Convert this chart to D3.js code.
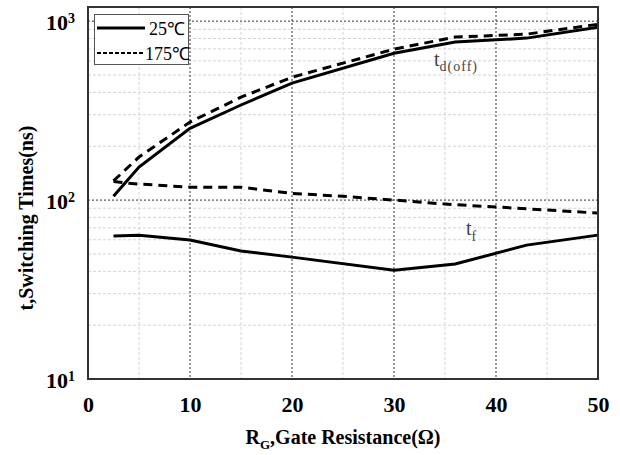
<!DOCTYPE html>
<html>
<head>
<meta charset="utf-8">
<script src="https://cdn.jsdelivr.net/npm/d3@7"></script>
<style>
  body { margin: 0; background: #fff; }
  svg { display: block; }
</style>
</head>
<body>
<svg id="chart" width="620" height="455"></svg>
<script>
// gate resistance (ohm) for each series
const rgTd25 = [2.5, 5, 10, 15, 20, 30, 36, 43, 50];
const td25 = [105, 153, 252, 340, 451, 662, 764, 804, 925];
const rgTd175 = [2.5, 5, 10, 15, 20, 30, 36, 43, 50];
const td175 = [128, 174, 273, 376, 486, 698, 815, 846, 961];
const rgTf25 = [2.5, 5, 10, 15, 20, 30, 36, 43, 50];
const tf25 = [63, 63.5, 59.8, 51.9, 48, 40.6, 43.9, 56, 63.7];
const rgTf175 = [2.5, 4, 10, 15, 20, 25, 30, 35, 40, 50];
const tf175 = [127, 124, 118, 118, 109, 105, 100, 95, 91.5, 84.6];

const xTicks = [0, 10, 20, 30, 40, 50];
const yTicks = [10, 100, 1000];
const yExp = ['1', '2', '3'];

const width = 620, height = 455;
const margin = { top: 7, right: 22, bottom: 76, left: 88 };

const svg = d3.select('#chart');

const x = d3.scaleLinear().domain([0, 50]).range([margin.left, width - margin.right]);
const y = d3.scaleLog().domain([10, 1200]).range([height - margin.bottom, margin.top]);

const serif = 'Liberation Serif, Times New Roman, serif';

// minor grid
const minorX = d3.range(5, 50, 10);
const minorY = d3.range(20, 100, 10).concat(d3.range(200, 1000, 100));
const grid = svg.append('g');
grid.selectAll('.mx').data(minorX).join('line')
  .attr('x1', d => x(d)).attr('x2', d => x(d))
  .attr('y1', y.range()[1]).attr('y2', y.range()[0])
  .attr('stroke', '#d4d4d4').attr('stroke-width', 1).attr('stroke-dasharray', '3,2');
grid.selectAll('.my').data(minorY).join('line')
  .attr('x1', x.range()[0]).attr('x2', x.range()[1])
  .attr('y1', d => y(d)).attr('y2', d => y(d))
  .attr('stroke', '#d4d4d4').attr('stroke-width', 1).attr('stroke-dasharray', '3,2');

// major grid
grid.selectAll('.Mx').data([10, 20, 30, 40]).join('line')
  .attr('x1', d => x(d)).attr('x2', d => x(d))
  .attr('y1', y.range()[1]).attr('y2', y.range()[0])
  .attr('stroke', '#333').attr('stroke-width', 1).attr('stroke-dasharray', '2,2');
grid.selectAll('.My').data([100, 1000]).join('line')
  .attr('x1', x.range()[0]).attr('x2', x.range()[1])
  .attr('y1', d => y(d)).attr('y2', d => y(d))
  .attr('stroke', '#333').attr('stroke-width', 1).attr('stroke-dasharray', '2,2');

// curves
const line = d3.line().x(d => x(d[0])).y(d => y(d[1]));
const series = [
  { rg: rgTd25, v: td25, dash: null },
  { rg: rgTd175, v: td175, dash: '9,6' },
  { rg: rgTf25, v: tf25, dash: null },
  { rg: rgTf175, v: tf175, dash: '9,6' }
];
svg.append('g').selectAll('path').data(series).join('path')
  .attr('d', s => line(s.rg.map((r, i) => [r, s.v[i]])))
  .attr('fill', 'none')
  .attr('stroke', '#000')
  .attr('stroke-width', 3)
  .attr('stroke-dasharray', s => s.dash);

// frame
svg.append('rect')
  .attr('x', x.range()[0]).attr('y', y.range()[1])
  .attr('width', x.range()[1] - x.range()[0])
  .attr('height', y.range()[0] - y.range()[1])
  .attr('fill', 'none').attr('stroke', '#333').attr('stroke-width', 2);

// x axis
const xAxis = svg.append('g')
  .attr('transform', `translate(0,${y.range()[0]})`)
  .call(d3.axisBottom(x).tickValues(xTicks).tickSize(0).tickPadding(0));
xAxis.attr('font-family', serif);
xAxis.select('.domain').remove();
xAxis.selectAll('text')
  .attr('y', 33).attr('dy', null)
  .style('font-family', serif).attr('font-size', 22).attr('font-weight', 'bold')
  .attr('fill', '#000');

// y axis, 10 with a superscript exponent
const yAxis = svg.append('g')
  .attr('transform', `translate(${x.range()[0]},0)`)
  .call(d3.axisLeft(y).tickValues(yTicks).tickSize(0).tickFormat(() => ''));
yAxis.attr('font-family', serif);
yAxis.select('.domain').remove();
yAxis.selectAll('.tick text').each(function (d, i) {
  const t = d3.select(this)
    .attr('x', -13).attr('dy', '0.4em').attr('text-anchor', 'end')
    .style('font-family', serif).attr('font-size', 22).attr('font-weight', 'bold')
    .attr('fill', '#000');
  t.append('tspan').text('10');
  t.append('tspan').attr('dy', '-0.5em').attr('font-size', 14).text(yExp[i]);
});

// axis titles
const xt = svg.append('text')
  .attr('x', 343).attr('y', 444)
  .attr('text-anchor', 'middle')
  .style('font-family', serif).attr('font-size', 20).attr('font-weight', 'bold');
xt.append('tspan').text('R');
xt.append('tspan').attr('dy', 5).attr('font-size', 13).text('G');
xt.append('tspan').attr('dy', -5).text(',Gate Resistance(Ω)');

svg.append('text')
  .attr('transform', 'translate(33,218) rotate(-90)')
  .attr('text-anchor', 'middle')
  .style('font-family', serif).attr('font-size', 20).attr('font-weight', 'bold')
  .text('t,Switching Times(ns)');

// legend
const lg = svg.append('g');
lg.append('rect')
  .attr('x', 94.5).attr('y', 14.5).attr('width', 94).attr('height', 50)
  .attr('fill', '#fff').attr('stroke', '#555').attr('stroke-width', 1);
lg.append('line').attr('x1', 97).attr('x2', 145).attr('y1', 28).attr('y2', 28)
  .attr('stroke', '#000').attr('stroke-width', 3);
lg.append('line').attr('x1', 97).attr('x2', 145).attr('y1', 53).attr('y2', 53)
  .attr('stroke', '#000').attr('stroke-width', 2).attr('stroke-dasharray', '4,2');
lg.append('text').attr('x', 149).attr('y', 35)
  .style('font-family', serif).attr('font-size', 18).text('25℃');
lg.append('text').attr('x', 145).attr('y', 60)
  .style('font-family', serif).attr('font-size', 18).text('175℃');

// curve labels
const ann = svg.append('g').attr('fill', '#444');
const a1 = ann.append('text').attr('x', 434).attr('y', 66)
  .style('font-family', serif).attr('font-size', 20);
a1.append('tspan').text('t');
a1.append('tspan').attr('dy', 5).attr('font-size', 14).attr('letter-spacing', 1).text('d(off)');
const a2 = ann.append('text').attr('x', 466).attr('y', 235)
  .style('font-family', serif).attr('font-size', 20);
a2.append('tspan').text('t');
a2.append('tspan').attr('dy', 6).attr('font-size', 14).text('f');
</script>
</body>
</html>
